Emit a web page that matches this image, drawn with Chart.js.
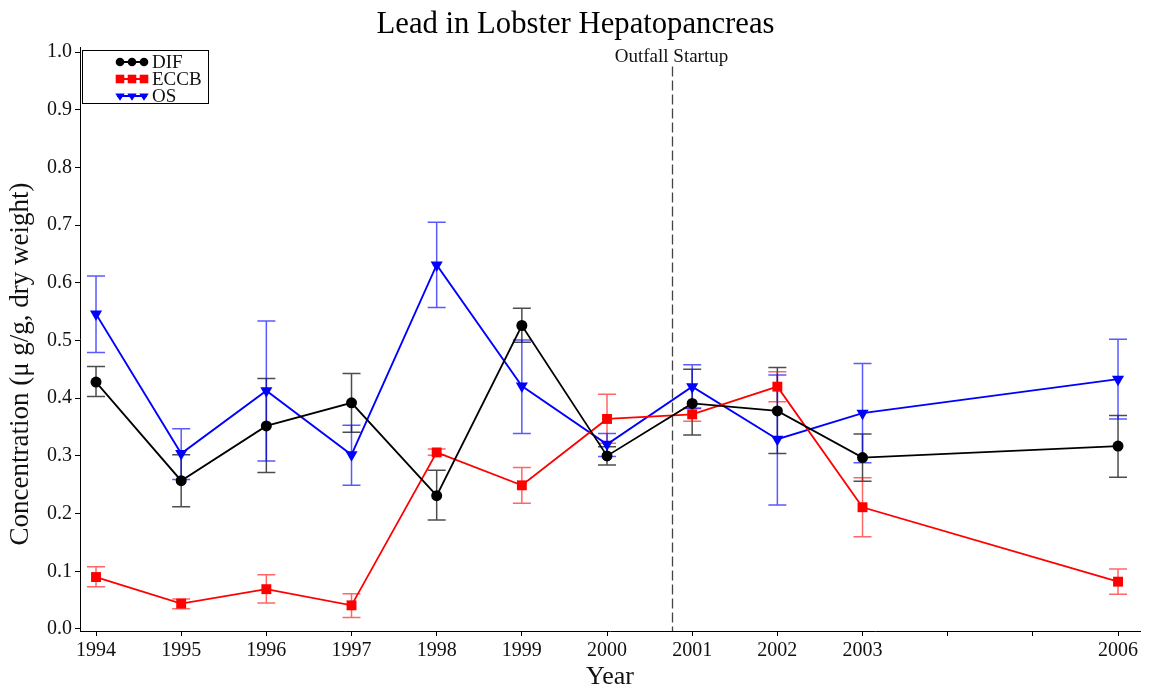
<!DOCTYPE html>
<html>
<head>
<meta charset="utf-8">
<title>Lead in Lobster Hepatopancreas</title>
<script src="https://cdn.jsdelivr.net/npm/chart.js@4/dist/chart.umd.min.js"></script>
<style>
  html, body { margin: 0; padding: 0; background: #fff; }
  #wrap { width: 1151px; height: 688px; position: relative; }
</style>
</head>
<body>
<div id="wrap"><canvas id="chart"></canvas></div>
<script>
// Sampling years and axis ticks
const years = [1994, 1995, 1996, 1997, 1998, 1999, 2000, 2001, 2002, 2003, 2006];
const xTickValues = [1994, 1995, 1996, 1997, 1998, 1999, 2000, 2001, 2002, 2003, 2004, 2005, 2006];
const xTickLabeled = [1994, 1995, 1996, 1997, 1998, 1999, 2000, 2001, 2002, 2003, 2006];
const yTickValues = [0, 0.1, 0.2, 0.3, 0.4, 0.5, 0.6, 0.7, 0.8, 0.9, 1.0];

// Lead concentration (µg/g dry weight): mean with lower / upper error limits
const difMean  = [0.428, 0.257, 0.352, 0.392, 0.231, 0.526, 0.300, 0.391, 0.378, 0.297, 0.317];
const difLow   = [0.403, 0.212, 0.271, 0.341, 0.189, 0.497, 0.284, 0.336, 0.304, 0.256, 0.263];
const difHigh  = [0.455, 0.302, 0.434, 0.443, 0.275, 0.556, 0.316, 0.450, 0.453, 0.338, 0.370];

const eccbMean = [0.090, 0.044, 0.069, 0.041, 0.306, 0.249, 0.364, 0.372, 0.420, 0.211, 0.082];
const eccbLow  = [0.073, 0.035, 0.045, 0.020, 0.301, 0.218, 0.322, 0.360, 0.394, 0.160, 0.060];
const eccbHigh = [0.108, 0.052, 0.094, 0.061, 0.312, 0.280, 0.407, 0.383, 0.446, 0.262, 0.104];

const osMean   = [0.546, 0.304, 0.413, 0.302, 0.631, 0.421, 0.320, 0.420, 0.329, 0.374, 0.433];
const osLow    = [0.479, 0.259, 0.291, 0.249, 0.557, 0.339, 0.299, 0.382, 0.215, 0.288, 0.364];
const osHigh   = [0.612, 0.347, 0.534, 0.353, 0.705, 0.501, 0.339, 0.458, 0.440, 0.460, 0.502];

// Outfall startup marker
const outfallYear = 2000.76;
const outfallLabel = 'Outfall Startup';

const chartTitle = 'Lead in Lobster Hepatopancreas';
const yAxisLabel = 'Concentration (μ g/g, dry weight)';

const SERIF = "'Liberation Serif', 'Times New Roman', serif";

function points(means) {
  return years.map((yr, i) => ({ x: yr, y: means[i] }));
}

// Simple marker drawer used by the legend box
function drawMarker(ctx, style, x, y, r, color) {
  ctx.save();
  ctx.fillStyle = color;
  ctx.beginPath();
  if (style === 'circle') {
    ctx.arc(x, y, r, 0, Math.PI * 2);
  } else if (style === 'rect') {
    ctx.rect(x - r, y - r, 2 * r, 2 * r);
  } else if (style === 'triangleDown') {
    ctx.moveTo(x - r * 1.1, y - r * 0.6);
    ctx.lineTo(x + r * 1.1, y - r * 0.6);
    ctx.lineTo(x, y + r * 1.1);
    ctx.closePath();
  }
  ctx.fill();
  ctx.restore();
}

// Vertical error bars with caps, drawn under the series
const errorBars = {
  id: 'errorBars',
  beforeDatasetsDraw(chart) {
    const { ctx, scales: { x, y } } = chart;
    chart.data.datasets.forEach(ds => {
      if (!ds.errLow) return;
      ctx.save();
      ctx.strokeStyle = ds.errColor;
      ctx.lineWidth = 1.5;
      ds.data.forEach((pt, j) => {
        const px = x.getPixelForValue(pt.x);
        const pLo = y.getPixelForValue(ds.errLow[j]);
        const pHi = y.getPixelForValue(ds.errHigh[j]);
        ctx.beginPath();
        ctx.moveTo(px, pLo); ctx.lineTo(px, pHi);
        ctx.moveTo(px - 9, pLo); ctx.lineTo(px + 9, pLo);
        ctx.moveTo(px - 9, pHi); ctx.lineTo(px + 9, pHi);
        ctx.stroke();
      });
      ctx.restore();
    });
  }
};

// Dashed vertical line for the outfall startup date
const outfallLine = {
  id: 'outfallLine',
  beforeDatasetsDraw(chart) {
    const { ctx, chartArea, scales: { x, y } } = chart;
    const px = Math.round(x.getPixelForValue(outfallYear)) + 0.5;
    ctx.save();
    ctx.strokeStyle = '#444';
    ctx.lineWidth = 1.3;
    ctx.setLineDash([10, 4]);
    ctx.beginPath();
    ctx.moveTo(px, y.getPixelForValue(0.975));
    ctx.lineTo(px, chartArea.bottom);
    ctx.stroke();
    ctx.setLineDash([]);
    ctx.fillStyle = '#111';
    ctx.font = '19px ' + SERIF;
    ctx.textAlign = 'center';
    ctx.textBaseline = 'middle';
    ctx.fillText(outfallLabel, px - 1, y.getPixelForValue(0.991));
    ctx.restore();
  }
};

// Figure title centred over the whole canvas, and the rotated y-axis caption
const captions = {
  id: 'captions',
  afterDraw(chart) {
    const { ctx, chartArea, width } = chart;
    ctx.save();
    ctx.fillStyle = '#000';
    ctx.font = '30.7px ' + SERIF;
    ctx.textAlign = 'center';
    ctx.textBaseline = 'middle';
    ctx.fillText(chartTitle, width / 2, 25);

    const cy = (chartArea.top + chartArea.bottom) / 2 + 25;
    ctx.translate(21, cy);
    ctx.rotate(-Math.PI / 2);
    ctx.fillStyle = '#111';
    ctx.font = '27px ' + SERIF;
    ctx.fillText(yAxisLabel, 0, 0);
    ctx.restore();
  }
};

// Boxed legend in the upper-left corner of the plot
const boxLegend = {
  id: 'boxLegend',
  afterDraw(chart) {
    const { ctx, chartArea } = chart;
    const left = chartArea.left + 2, top = chartArea.top + 3;
    ctx.save();
    ctx.strokeStyle = '#000';
    ctx.lineWidth = 1;
    ctx.strokeRect(left + 0.5, top + 0.5, 126, 53);
    chart.data.datasets.forEach((ds, i) => {
      const cy = top + 12 + i * 17;
      ctx.strokeStyle = ds.borderColor;
      ctx.lineWidth = 2;
      ctx.beginPath();
      ctx.moveTo(left + 35, cy);
      ctx.lineTo(left + 65, cy);
      ctx.stroke();
      [left + 38, left + 50, left + 62].forEach(mx =>
        drawMarker(ctx, ds.legendMarker, mx, cy, 4.3, ds.borderColor));
      ctx.fillStyle = '#111';
      ctx.font = '19px ' + SERIF;
      ctx.textAlign = 'left';
      ctx.textBaseline = 'middle';
      ctx.fillText(ds.label, left + 70, cy + 1);
    });
    ctx.restore();
  }
};

const axisText = { family: SERIF, size: 20, weight: 'normal' };

new Chart(document.getElementById('chart'), {
  type: 'line',
  data: {
    datasets: [
      {
        label: 'DIF', data: points(difMean), errLow: difLow, errHigh: difHigh,
        errColor: 'rgba(0,0,0,0.7)', legendMarker: 'circle',
        borderColor: '#000000', backgroundColor: '#000000', borderWidth: 1.8,
        pointStyle: 'circle', pointRadius: 5.5, pointBorderWidth: 0
      },
      {
        label: 'ECCB', data: points(eccbMean), errLow: eccbLow, errHigh: eccbHigh,
        errColor: 'rgba(255,0,0,0.6)', legendMarker: 'rect',
        borderColor: '#ff0000', backgroundColor: '#ff0000', borderWidth: 1.8,
        pointStyle: 'rect', pointRadius: 7, pointBorderWidth: 0
      },
      {
        label: 'OS', data: points(osMean), errLow: osLow, errHigh: osHigh,
        errColor: 'rgba(0,0,255,0.65)', legendMarker: 'triangleDown',
        borderColor: '#0000ff', backgroundColor: '#0000ff', borderWidth: 1.8,
        pointStyle: 'triangle', rotation: 180, pointRadius: 7, pointBorderWidth: 0
      }
    ]
  },
  options: {
    responsive: true,
    maintainAspectRatio: false,
    animation: false,
    layout: { padding: { left: 0, right: 11, top: 47, bottom: 0 } },
    plugins: {
      legend: { display: false },
      tooltip: { enabled: false },
      title: { display: false }
    },
    scales: {
      x: {
        type: 'linear',
        min: 1993.812,
        max: 2006.258,
        afterBuildTicks: s => { s.ticks = xTickValues.map(v => ({ value: v })); },
        afterFit: s => { s.height = 57; },
        ticks: {
          autoSkip: false, maxRotation: 0, color: '#111', font: axisText, padding: 3,
          callback: v => xTickLabeled.includes(v) ? String(v) : ''
        },
        grid: { drawOnChartArea: false, drawTicks: true, tickLength: 5, color: '#000' },
        border: { display: true, color: '#000', width: 1 },
        title: {
          display: true, text: 'Year', color: '#111',
          font: { family: SERIF, size: 26, weight: 'normal', lineHeight: 0.85 },
          padding: { top: 0, bottom: 0 }
        }
      },
      y: {
        type: 'linear',
        min: -0.0035,
        max: 1.0087,
        afterBuildTicks: s => { s.ticks = yTickValues.map(v => ({ value: v })); },
        afterFit: s => { s.width = 80; },
        ticks: { color: '#111', font: axisText, padding: 3, callback: v => v.toFixed(1) },
        grid: { drawOnChartArea: false, drawTicks: true, tickLength: 5, color: '#000' },
        border: { display: true, color: '#000', width: 1 },
        title: { display: false }
      }
    }
  },
  plugins: [errorBars, outfallLine, captions, boxLegend]
});
</script>
</body>
</html>
